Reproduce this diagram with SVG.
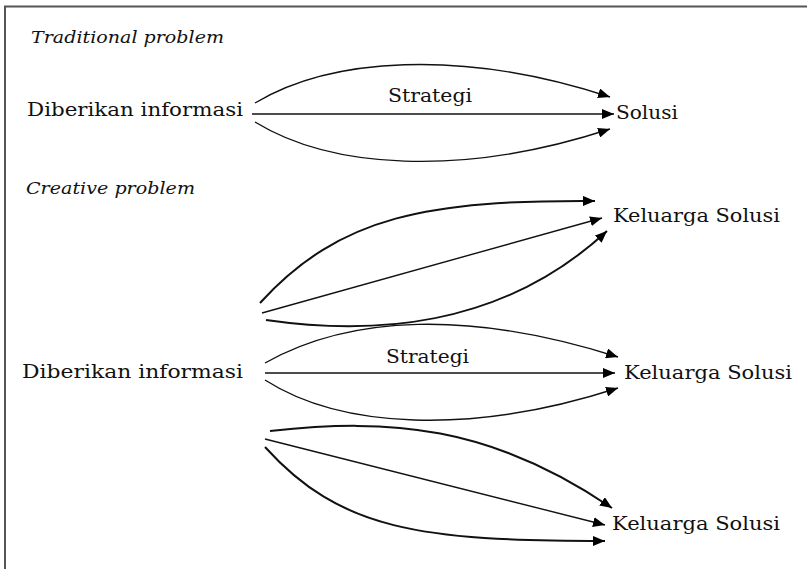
<svg xmlns="http://www.w3.org/2000/svg" width="807" height="569" viewBox="0 0 807 569">
<defs>
<marker id="ah" markerUnits="userSpaceOnUse" markerWidth="12" markerHeight="10" refX="12" refY="5" orient="auto">
<path d="M0,0 L12,5 L0,10 z" fill="#000"/>
</marker>
<style>
.t{font-family:"DejaVu Serif","Liberation Serif",serif;font-size:19px;fill:#111}
.it{font-family:"DejaVu Serif","Liberation Serif",serif;font-style:italic;font-size:17px;fill:#111}
.c{fill:none;stroke:#111;stroke-width:1.4;marker-end:url(#ah)}
.b{stroke-width:2}
</style>
</defs>
<rect width="807" height="569" fill="#fff"/>
<path d="M5,569 V6.5 H807" fill="none" stroke="#555" stroke-width="2"/>
<g id="labels">
<text class="it" x="31" y="43" textLength="193" lengthAdjust="spacingAndGlyphs">Traditional problem</text>
<text class="it" x="26" y="194" textLength="169" lengthAdjust="spacingAndGlyphs">Creative problem</text>
</g>
<g id="trad-info"><text class="t" x="27" y="116" textLength="216" lengthAdjust="spacingAndGlyphs">Diberikan informasi</text></g>
<g id="trad-strategi"><text class="t" x="388" y="102" textLength="84" lengthAdjust="spacingAndGlyphs">Strategi</text></g>
<g id="trad-solusi"><text class="t" x="616" y="119" textLength="62" lengthAdjust="spacingAndGlyphs">Solusi</text></g>
<g id="cr-info"><text class="t" x="22" y="378" textLength="221" lengthAdjust="spacingAndGlyphs">Diberikan informasi</text></g>
<g id="cr-strategi"><text class="t" x="386" y="363" textLength="83" lengthAdjust="spacingAndGlyphs">Strategi</text></g>
<g id="kel1"><text class="t" x="613" y="222" textLength="167" lengthAdjust="spacingAndGlyphs">Keluarga Solusi</text></g>
<g id="kel2"><text class="t" x="624" y="379" textLength="168" lengthAdjust="spacingAndGlyphs">Keluarga Solusi</text></g>
<g id="kel3"><text class="t" x="612" y="530" textLength="168" lengthAdjust="spacingAndGlyphs">Keluarga Solusi</text></g>
<g id="connectors">
<path class="c" d="M255,103 C330,58 460,48 610,97"/>
<path class="c" d="M252,114 L614,114"/>
<path class="c" d="M255,122 C330,168 460,178 610,129"/>
<path class="c b" d="M260,303 C340,215 430,200 595,201"/>
<path class="c" d="M262,313 L602,218"/>
<path class="c b" d="M266,320 C370,335 500,330 607,231"/>
<path class="c" d="M265,363 C350,315 470,310 618,357"/>
<path class="c" d="M265,373 L615,373"/>
<path class="c" d="M265,380 C340,428 470,436 618,388"/>
<path class="c b" d="M270,431 C390,418 490,425 612,508"/>
<path class="c" d="M265,439 L605,525"/>
<path class="c b" d="M265,447 C340,530 420,541 605,541"/>
</g>
</svg>
